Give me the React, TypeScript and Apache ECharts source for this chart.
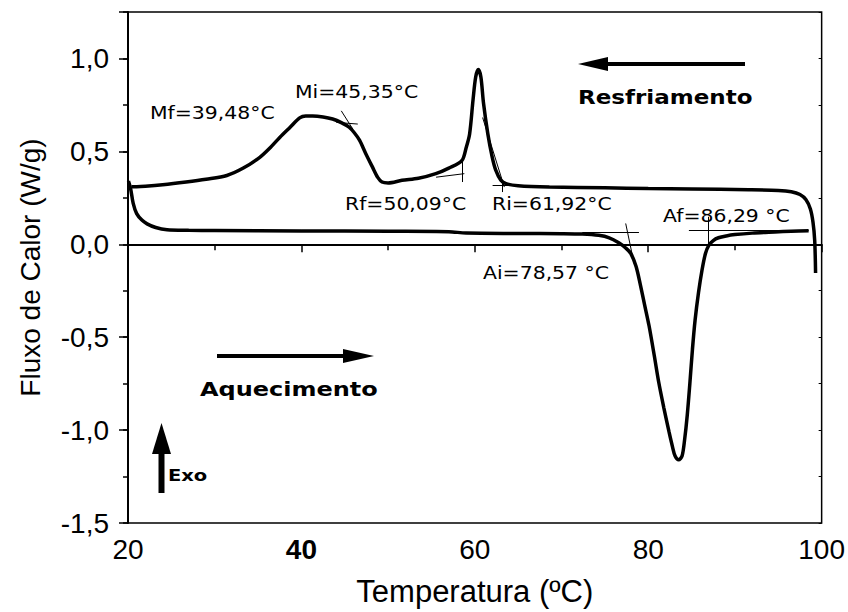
import React, { useEffect, useRef } from "react";
import * as echarts from "echarts";

// Cooling curve (Resfriamento), temperature °C and heat flow W/g
const COOL_T = [20.4, 21, 22, 24, 26.7, 29, 31.4, 33.3, 35.2, 36.4, 37.5, 38.7, 39.8, 40.5, 41.3, 42.5, 43.6, 44.6, 45.5, 46.1, 46.7, 47.4, 48.2, 48.8, 49.3, 50, 51.6, 53.5, 55.5, 57, 58.5, 59.0, 59.4, 59.8, 60.1, 60.4, 60.7, 61.0, 61.5, 62.0, 62.4, 63.0, 63.6, 65, 68.6, 75, 80, 85, 91.6, 95, 96.5, 97.5, 98.2, 98.7, 99.0, 99.2, 99.3];
const COOL_V = [0.31, 0.31, 0.312, 0.32, 0.335, 0.35, 0.37, 0.41, 0.468, 0.52, 0.575, 0.63, 0.68, 0.69, 0.69, 0.685, 0.674, 0.655, 0.63, 0.6, 0.56, 0.49, 0.415, 0.36, 0.335, 0.33, 0.344, 0.355, 0.38, 0.41, 0.45, 0.52, 0.594, 0.78, 0.9, 0.94, 0.9, 0.76, 0.594, 0.47, 0.4, 0.345, 0.326, 0.315, 0.308, 0.304, 0.3, 0.298, 0.294, 0.29, 0.283, 0.268, 0.24, 0.19, 0.12, 0.02, -0.155];

// Heating curve (Aquecimento)
const HEAT_T = [20.05, 20.3, 20.6, 21.0, 21.6, 22.2, 23.2, 24.5, 27, 30, 40, 50, 57, 59, 65, 70, 72.4, 74.3, 75.5, 76.6, 77.4, 78.0, 78.6, 79.1, 79.6, 80.1, 80.7, 81.2, 81.8, 82.4, 82.8, 83.1, 83.5, 83.9, 84.2, 84.5, 84.8, 85.1, 85.4, 85.8, 86.2, 86.6, 87.0, 87.5, 88.1, 89, 90, 92, 94.6, 96.5, 98.5];
const HEAT_V = [0.34, 0.3, 0.22, 0.165, 0.13, 0.11, 0.09, 0.078, 0.075, 0.074, 0.072, 0.07, 0.068, 0.06, 0.058, 0.057, 0.055, 0.048, 0.035, 0.008, -0.02, -0.05, -0.12, -0.22, -0.33, -0.44, -0.6, -0.74, -0.88, -1.01, -1.09, -1.14, -1.16, -1.14, -1.05, -0.92, -0.75, -0.565, -0.41, -0.26, -0.14, -0.05, -0.005, 0.02, 0.035, 0.045, 0.052, 0.06, 0.066, 0.07, 0.073];

// Tangent construction lines [[T1, v1], [T2, v2]]
const TANGENTS: number[][][] = [
  [[44.6, 0.718], [45.93, 0.62]],
  [[44.02, 0.656], [46.5, 0.647]],
  [[55.53, 0.361], [58.79, 0.38]],
  [[58.6, 0.468], [58.6, 0.335]],
  [[62.05, 0.317], [66.65, 0.317]],
  [[63.2, 0.344], [63.2, 0.281]],
  [[60.9, 0.682], [63.4, 0.308]],
  [[72.4, 0.064], [78.93, 0.064]],
  [[77.4, 0.112], [78.36, -0.102]],
  [[84.69, 0.076], [98.5, 0.076]],
  [[86.9, 0.148], [86.9, -0.013]],
];

const ANNOTATIONS = ["Mf=39,48°C", "Mi=45,35°C", "Rf=50,09°C", "Ri=61,92°C", "Af=86,29 °C", "Ai=78,57 °C"];
const X_TITLE = "Temperatura (ºC)";
const Y_TITLE = "Fluxo de Calor (W/g)";

const FONT = "Liberation Sans, Arial, sans-serif";

export default function App() {
  const ref = useRef<HTMLDivElement>(null);
  useEffect(() => {
    if (!ref.current) return;
    const chart = echarts.init(ref.current, null, { renderer: "svg" });
    const cool = COOL_T.map((t, i) => [t, COOL_V[i]]);
    const heat = HEAT_T.map((t, i) => [t, HEAT_V[i]]);
    const annPos = [
      [150, 113], [295, 92], [345, 204], [492, 204], [663, 216], [483, 273],
    ];
    const annText = ANNOTATIONS.map((t, i) => ({
      type: "text",
      x: annPos[i][0],
      y: annPos[i][1],
      scaleX: 1.2,
      style: { text: t, fontFamily: "DejaVu Sans", fontSize: 17, fill: "#000", verticalAlign: "middle", align: "left" },
      z: 10,
    }));
    const isHalf = (v: number) => Math.abs(v * 2 - Math.round(v * 2)) < 1e-6;
    const option: any = {
      animation: false,
      backgroundColor: "#fff",
      grid: { left: 128, right: 25, top: 12, bottom: 88, show: true, borderColor: "#000", borderWidth: 1.5 },
      xAxis: [
        {
          type: "value", min: 20, max: 100, interval: 20,
          name: X_TITLE, nameLocation: "middle", nameGap: 53,
          nameTextStyle: { fontFamily: FONT, fontSize: 31, color: "#000" },
          axisLine: { show: true, lineStyle: { color: "#000", width: 2 } },
          axisTick: { show: true, length: 8, lineStyle: { color: "#000", width: 1.5 } },
          minorTick: { show: true, splitNumber: 2, length: 6, lineStyle: { color: "#000", width: 1.5 } },
          splitLine: { show: false },
          axisLabel: {
            fontFamily: FONT, fontSize: 28, color: "#000", margin: 12,
            formatter: (v: number) => (v === 40 ? "{b|40}" : String(v)),
            rich: { b: { fontWeight: "bold", fontFamily: FONT, fontSize: 28, color: "#000" } },
          },
        },
      ],
      yAxis: [
        {
          type: "value", position: "left", min: -1.5, max: 1.25, interval: 0.25,
          name: Y_TITLE, nameLocation: "middle", nameGap: 84,
          nameTextStyle: { fontFamily: FONT, fontSize: 28, color: "#000" },
          axisLine: { show: true, lineStyle: { color: "#000", width: 2 } },
          axisTick: { show: true, length: 5, lineStyle: { color: "#000", width: 1.5 } },
          splitLine: { show: false },
          axisLabel: {
            fontFamily: FONT, fontSize: 28, color: "#000", margin: 19,
            formatter: (v: number) => (isHalf(v) ? v.toFixed(1).replace(".", ",") : ""),
          },
        },
        {
          type: "value", position: "left", min: -1.5, max: 1.25, interval: 0.5,
          axisLine: { show: false },
          axisTick: { show: true, length: 9, lineStyle: { color: "#000", width: 1.5 } },
          axisLabel: { show: false },
          splitLine: { show: false },
        },
        {
          type: "value", position: "right", min: -1.5, max: 1.25, interval: 0.25,
          axisLine: { show: false },
          axisTick: { show: true, inside: true, length: 3, lineStyle: { color: "#000", width: 1 } },
          axisLabel: { show: false },
          splitLine: { show: false },
        },
      ],
      series: [
        {
          type: "line", name: "Resfriamento", data: cool, showSymbol: false, smooth: 0.3,
          lineStyle: { color: "#000", width: 3.5 }, z: 3,
          markLine: {
            silent: true, symbol: "none", animation: false,
            label: { show: false },
            lineStyle: { color: "#000", width: 1, type: "solid" },
            data: TANGENTS.map((s) => [{ coord: s[0] }, { coord: s[1] }]),
          },
        },
        {
          type: "line", name: "Aquecimento", data: heat, showSymbol: false, smooth: 0.3,
          lineStyle: { color: "#000", width: 3.5 }, z: 3,
        },
      ],
      graphic: [
        ...annText,
        {
          type: "text", x: 578, y: 97, scaleX: 1.15,
          style: { text: "Resfriamento", fontFamily: "DejaVu Sans", fontWeight: "bold", fontSize: 20, fill: "#000", verticalAlign: "middle", align: "left" },
        },
        {
          type: "text", x: 200, y: 389, scaleX: 1.2,
          style: { text: "Aquecimento", fontFamily: "DejaVu Sans", fontWeight: "bold", fontSize: 20, fill: "#000", verticalAlign: "middle", align: "left" },
        },
        {
          type: "text", x: 168, y: 476, scaleX: 1.3,
          style: { text: "Exo", fontFamily: "DejaVu Sans", fontWeight: "bold", fontSize: 15, fill: "#000", verticalAlign: "middle", align: "left" },
        },
        { type: "line", shape: { x1: 600, y1: 64, x2: 745, y2: 64 }, style: { stroke: "#000", lineWidth: 4 } },
        { type: "polygon", shape: { points: [[578, 64], [608, 57], [608, 71]] }, style: { fill: "#000" } },
        { type: "line", shape: { x1: 217, y1: 356, x2: 350, y2: 356 }, style: { stroke: "#000", lineWidth: 4 } },
        { type: "polygon", shape: { points: [[374, 356], [343, 349], [343, 363]] }, style: { fill: "#000" } },
        { type: "line", shape: { x1: 161.5, y1: 493, x2: 161.5, y2: 445 }, style: { stroke: "#000", lineWidth: 6 } },
        { type: "polygon", shape: { points: [[161.5, 423], [152, 454], [171, 454]] }, style: { fill: "#000" } },
      ],
    };
    chart.setOption(option);
    return () => chart.dispose();
  }, []);
  return <div ref={ref} style={{ position: "fixed", left: 0, top: 0, width: 848, height: 612 }} />;
}
